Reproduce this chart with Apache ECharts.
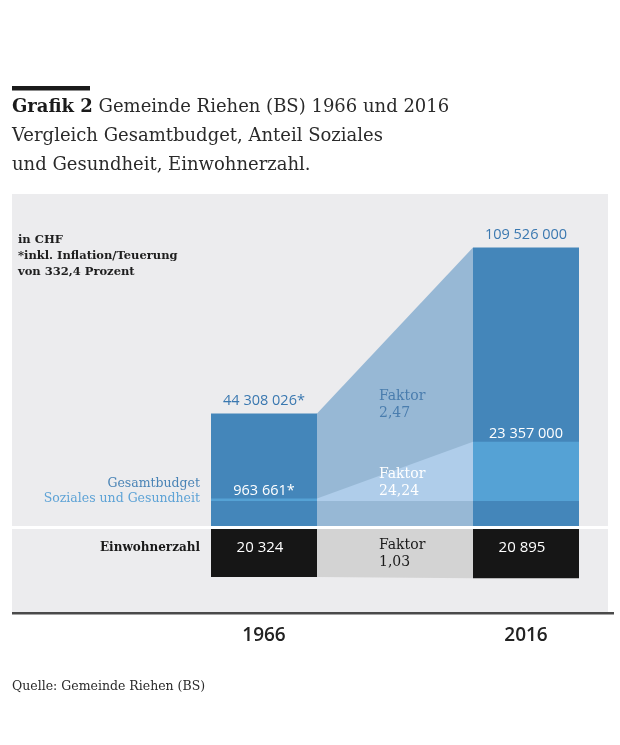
<!DOCTYPE html>
<html>
<head>
<meta charset="utf-8">
<style>
html, body { margin: 0; padding: 0; background: #fff; }
#chart { width: 620px; height: 745px; }
</style>
<script src="https://cdn.jsdelivr.net/npm/echarts@6/dist/echarts.min.js"></script>
</head>
<body>
<div id="chart"></div>
<script>

var years = ['1966', '2016'];
var budget = [44308026, 109526000];
var social = [963661, 23357000];
var population = [20324, 20895];
var inflationAdjusted = [true, false];

var serif = 'DejaVu Serif';
var sans = 'Open Sans';
var HALF = 53;          // half bar width in px
var SOCIAL_LIFT = 25;   // social band sits this far above the baseline

function fmt(v) {
    return String(v).replace(/\B(?=(\d{3})+(?!\d))/g, ' ');
}
function factor(a, b) {
    return (b / a).toFixed(2).replace('.', ',');
}
function txt(size, family, weight) {
    return { fontSize: size, fontFamily: family, fontWeight: weight || 'normal' };
}
function ext(a, b) {
    for (var k in b) a[k] = b[k];
    return a;
}

var myChart = echarts.init(document.getElementById('chart'));

var option = {
    animation: false,
    grid: [
        { left: 264, right: 94, top: 221, bottom: 219 },
        { left: 264, right: 94, top: 529, bottom: 124 }
    ],
    xAxis: [
        { gridIndex: 0, type: 'category', data: years, boundaryGap: false, show: false },
        {
            gridIndex: 1, type: 'category', data: years, boundaryGap: false,
            axisLine: { show: false }, axisTick: { show: false },
            axisLabel: { margin: 5, fontFamily: sans, fontSize: 19, fontWeight: 600, color: '#222' }
        }
    ],
    yAxis: [
        { gridIndex: 0, type: 'value', min: 0, max: 120000000, show: false },
        { gridIndex: 1, type: 'value', min: 0, max: 39000, inverse: true, show: false }
    ],
    graphic: [
        { type: 'rect', z: 0, shape: { x: 12, y: 194, width: 596, height: 418 }, style: { fill: '#ececee' } },
        { type: 'rect', z: 0, shape: { x: 12, y: 526, width: 596, height: 3 }, style: { fill: '#ffffff' } },
        { type: 'rect', z: 0, shape: { x: 12, y: 612, width: 602, height: 2.5 }, style: { fill: '#4a4a4a' } },
        { type: 'rect', z: 0, shape: { x: 12, y: 86, width: 78, height: 4.5 }, style: { fill: '#1a1a1a' } },
        {
            type: 'text', z: 10, x: 12, y: 93,
            style: ext(txt(18, serif), {
                text: '{b|Grafik 2} Gemeinde Riehen (BS) 1966 und 2016\nVergleich Gesamtbudget, Anteil Soziales\nund Gesundheit, Einwohnerzahl.',
                fill: '#2a2a2a', lineHeight: 29,
                rich: { b: ext(txt(18, serif, 'bold'), { fill: '#1a1a1a', lineHeight: 29 }) }
            })
        },
        {
            type: 'text', z: 10, x: 18, y: 232,
            style: ext(txt(11.5, serif, 'bold'), {
                text: 'in CHF\n*inkl. Inflation/Teuerung\nvon 332,4 Prozent',
                fill: '#1e1e1e', lineHeight: 16
            })
        },
        {
            type: 'text', z: 10, x: 200, y: 484,
            style: ext(txt(12.5, serif), { text: 'Gesamtbudget', fill: '#4a84b6', align: 'right', verticalAlign: 'middle' })
        },
        {
            type: 'text', z: 10, x: 200, y: 499,
            style: ext(txt(12.5, serif), { text: 'Soziales und Gesundheit', fill: '#5ea3d6', align: 'right', verticalAlign: 'middle' })
        },
        {
            type: 'text', z: 10, x: 200, y: 548,
            style: ext(txt(12, serif, 'bold'), { text: 'Einwohnerzahl', fill: '#1a1a1a', align: 'right', verticalAlign: 'middle' })
        },
        {
            type: 'text', z: 10, x: 12, y: 687,
            style: ext(txt(12.5, serif), { text: 'Quelle: Gemeinde Riehen (BS)', fill: '#2a2a2a', verticalAlign: 'middle' })
        }
    ],
    series: [
        {
            // connecting shapes between the two budget bars
            type: 'custom', xAxisIndex: 0, yAxisIndex: 0, z: 2,
            data: [[0, 1]],
            renderItem: function (params, api) {
                var t0 = api.coord([0, budget[0]]);
                var t1 = api.coord([1, budget[1]]);
                var b0 = api.coord([0, 0]);
                var x0 = t0[0] + HALF, x1 = t1[0] - HALF;
                var sb = b0[1] - SOCIAL_LIFT;
                var s0 = sb - (b0[1] - api.coord([0, social[0]])[1]);
                var s1 = sb - (b0[1] - api.coord([1, social[1]])[1]);
                return {
                    type: 'group',
                    children: [
                        { type: 'polygon', shape: { points: [[x0, t0[1]], [x1, t1[1]], [x1, b0[1]], [x0, b0[1]]] }, style: { fill: '#97b8d5' } },
                        { type: 'polygon', shape: { points: [[x0, s0], [x1, s1], [x1, sb], [x0, sb]] }, style: { fill: '#afcdea' } },
                        {
                            type: 'text', x: x0 + 62, y: t0[1] - 9,
                            style: ext(txt(14, serif), { text: 'Faktor\n' + factor(budget[0], budget[1]), fill: '#4a7dae', lineHeight: 17, verticalAlign: 'middle' })
                        },
                        {
                            type: 'text', x: x0 + 62, y: sb - 18,
                            style: ext(txt(14, serif), { text: 'Faktor\n' + factor(social[0], social[1]), fill: '#ffffff', lineHeight: 17, verticalAlign: 'middle' })
                        }
                    ]
                };
            }
        },
        {
            type: 'custom', xAxisIndex: 0, yAxisIndex: 0, z: 3,
            encode: { x: 0, y: 1 },
            data: years.map(function (y, i) { return [i, budget[i], social[i]]; }),
            renderItem: function (params, api) {
                var i = api.value(0);
                var top = api.coord([i, api.value(1)]);
                var base = api.coord([i, 0]);
                var sh = base[1] - api.coord([i, api.value(2)])[1];
                var sBottom = base[1] - SOCIAL_LIFT;
                var sTop = sBottom - sh;
                var ly = Math.min((sTop + sBottom) / 2, sTop - 8);
                return {
                    type: 'group',
                    children: [
                        { type: 'rect', shape: { x: top[0] - HALF, y: top[1], width: HALF * 2, height: base[1] - top[1] }, style: { fill: '#4486ba' } },
                        { type: 'rect', shape: { x: top[0] - HALF, y: sTop, width: HALF * 2, height: sh }, style: { fill: '#55a2d5' } },
                        {
                            type: 'text', x: top[0], y: top[1] - 13,
                            style: ext(txt(14.5, sans, 500), { text: fmt(api.value(1)) + (inflationAdjusted[i] ? '*' : ''), fill: '#3a78b0', align: 'center', verticalAlign: 'middle' })
                        },
                        {
                            type: 'text', x: top[0], y: ly,
                            style: ext(txt(14.5, sans, 500), { text: fmt(api.value(2)) + (inflationAdjusted[i] ? '*' : ''), fill: '#ffffff', align: 'center', verticalAlign: 'middle' })
                        }
                    ]
                };
            }
        },
        {
            // population connector
            type: 'custom', xAxisIndex: 1, yAxisIndex: 1, z: 2,
            data: [[0, 1]],
            renderItem: function (params, api) {
                var p0 = api.coord([0, population[0]]);
                var p1 = api.coord([1, population[1]]);
                var top = api.coord([0, 0])[1];
                var x0 = p0[0] + HALF, x1 = p1[0] - HALF;
                return {
                    type: 'group',
                    children: [
                        { type: 'polygon', shape: { points: [[x0, top], [x1, top], [x1, p1[1]], [x0, p0[1]]] }, style: { fill: '#d3d3d3' } },
                        {
                            type: 'text', x: x0 + 62, y: top + 25,
                            style: ext(txt(14, serif), { text: 'Faktor\n' + factor(population[0], population[1]), fill: '#1a1a1a', lineHeight: 17, verticalAlign: 'middle' })
                        }
                    ]
                };
            }
        },
        {
            type: 'custom', xAxisIndex: 1, yAxisIndex: 1, z: 3,
            encode: { x: 0, y: 1 },
            data: years.map(function (y, i) { return [i, population[i]]; }),
            renderItem: function (params, api) {
                var i = api.value(0);
                var end = api.coord([i, api.value(1)]);
                var start = api.coord([i, 0]);
                return {
                    type: 'group',
                    children: [
                        { type: 'rect', shape: { x: end[0] - HALF, y: start[1], width: HALF * 2, height: end[1] - start[1] }, style: { fill: '#161616' } },
                        {
                            type: 'text', x: end[0] - 4, y: start[1] + 19,
                            style: ext(txt(15, sans, 500), { text: fmt(api.value(1)), fill: '#ffffff', align: 'center', verticalAlign: 'middle' })
                        }
                    ]
                };
            }
        }
    ]
};

myChart.setOption(option);

</script>
</body>
</html>
